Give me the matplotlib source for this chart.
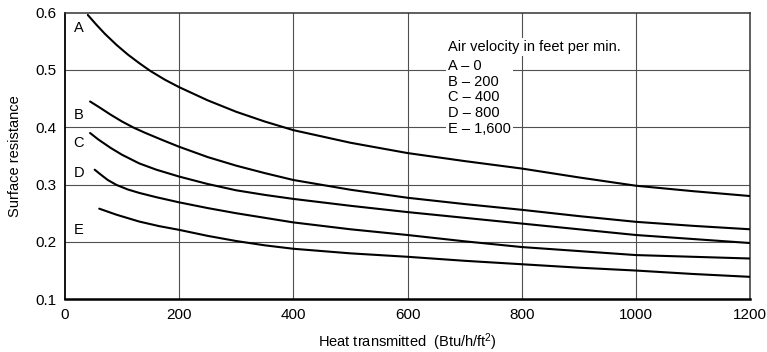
import matplotlib
matplotlib.use("Agg")
import matplotlib.pyplot as plt

# Curve data (heat transmitted vs surface resistance)
a_x = [40, 55, 70, 90, 110, 130, 150, 175, 200, 250, 300, 350, 400, 500, 600, 700, 800, 900, 1000, 1100, 1200]
a_y = [0.596, 0.579, 0.563, 0.544, 0.527, 0.512, 0.498, 0.483, 0.470, 0.447, 0.427, 0.410, 0.395,
       0.373, 0.355, 0.341, 0.328, 0.3125, 0.298, 0.2885, 0.280]

b_x = [44, 60, 80, 100, 120, 140, 170, 200, 250, 300, 350, 400, 500, 600, 700, 800, 900, 1000, 1100, 1200]
b_y = [0.445, 0.435, 0.422, 0.410, 0.3995, 0.3905, 0.378, 0.366, 0.348, 0.333, 0.320, 0.308,
       0.291, 0.277, 0.266, 0.256, 0.245, 0.235, 0.228, 0.222]

c_x = [44, 58, 80, 100, 130, 160, 200, 250, 300, 350, 400, 500, 600, 700, 800, 900, 1000, 1100, 1200]
c_y = [0.390, 0.379, 0.364, 0.352, 0.337, 0.326, 0.314, 0.301, 0.290, 0.282, 0.275,
       0.263, 0.252, 0.242, 0.232, 0.222, 0.212, 0.205, 0.198]

d_x = [52, 62, 75, 90, 110, 130, 160, 200, 250, 300, 350, 400, 500, 600, 700, 800, 900, 1000, 1100, 1200]
d_y = [0.326, 0.318, 0.308, 0.2995, 0.2915, 0.2855, 0.278, 0.269, 0.259, 0.250, 0.242, 0.234,
       0.222, 0.212, 0.201, 0.191, 0.184, 0.177, 0.174, 0.171]

e_x = [60, 90, 130, 165, 200, 250, 300, 350, 400, 500, 600, 700, 800, 900, 1000, 1100, 1200]
e_y = [0.258, 0.2475, 0.2355, 0.2275, 0.221, 0.2105, 0.2015, 0.194, 0.188, 0.180, 0.174,
       0.167, 0.161, 0.155, 0.150, 0.144, 0.139]

curve_labels = ["A", "B", "C", "D", "E"]
label_y = [0.573, 0.422, 0.373, 0.321, 0.221]

legend_title = "Air velocity in feet per min."
legend_items = ["A \u2013 0", "B \u2013 200", "C \u2013 400", "D \u2013 800", "E \u2013 1,600"]

x_ticks = [0, 200, 400, 600, 800, 1000, 1200]
y_ticks = [0.1, 0.2, 0.3, 0.4, 0.5, 0.6]


def plot_surface_resistance(output_file):
    plt.rcParams["font.family"] = ["Liberation Sans", "DejaVu Sans"]
    plt.rcParams["mathtext.fontset"] = "custom"
    plt.rcParams["mathtext.rm"] = "Liberation Sans"
    plt.rcParams["mathtext.default"] = "regular"
    fig = plt.figure(figsize=(7.67, 3.52), dpi=100)
    ax = fig.add_axes([0.0847, 0.150, 0.8934, 0.814])

    # Grid lines drawn behind everything
    for xv in x_ticks[1:-1]:
        ax.axvline(xv, color="#505050", linewidth=0.8, zorder=1)
    for yv in y_ticks[1:-1]:
        ax.axhline(yv, color="#505050", linewidth=0.8, zorder=1)

    for xs, ys in zip([a_x, b_x, c_x, d_x, e_x], [a_y, b_y, c_y, d_y, e_y]):
        ax.plot(xs, ys, color="black", linewidth=1.5, zorder=3,
                solid_joinstyle="round", solid_capstyle="round")

    for lab, yv in zip(curve_labels, label_y):
        ax.text(24, yv, lab, fontsize=10.5, ha="center", va="center", zorder=4)

    # Legend block with white background hiding the grid
    ax.text(671, 0.553, legend_title, fontsize=10.5, ha="left", va="top",
            zorder=5, bbox=dict(facecolor="white", edgecolor="none", pad=1.5))
    ax.text(671, 0.519, "\n".join(legend_items), fontsize=10.5, ha="left", va="top",
            linespacing=1.15, zorder=5,
            bbox=dict(facecolor="white", edgecolor="none", pad=1.5))

    ax.set_xlim(0, 1200)
    ax.set_ylim(0.1, 0.6)
    ax.set_xticks(x_ticks)
    ax.set_yticks(y_ticks)
    ax.set_xticklabels([str(v) for v in x_ticks])
    ax.set_yticklabels([f"{v:.1f}" for v in y_ticks])
    ax.tick_params(length=0, labelsize=11)
    ax.tick_params(axis="x", pad=6)
    ax.tick_params(axis="y", pad=6)

    for side in ["left", "bottom"]:
        ax.spines[side].set_color("black")
    ax.spines["left"].set_linewidth(1.3)
    ax.spines["bottom"].set_linewidth(1.8)
    for side in ["top", "right"]:
        ax.spines[side].set_linewidth(1.1)
        ax.spines[side].set_color("#333333")

    ax.set_xlabel("Heat transmitted  (Btu/h/ft$^{2}$)", fontsize=10.5, labelpad=7)
    ax.set_ylabel("Surface resistance", fontsize=10.5, labelpad=10)

    fig.savefig(output_file, dpi=100)


if __name__ == "__main__":
    plot_surface_resistance("out.png")
